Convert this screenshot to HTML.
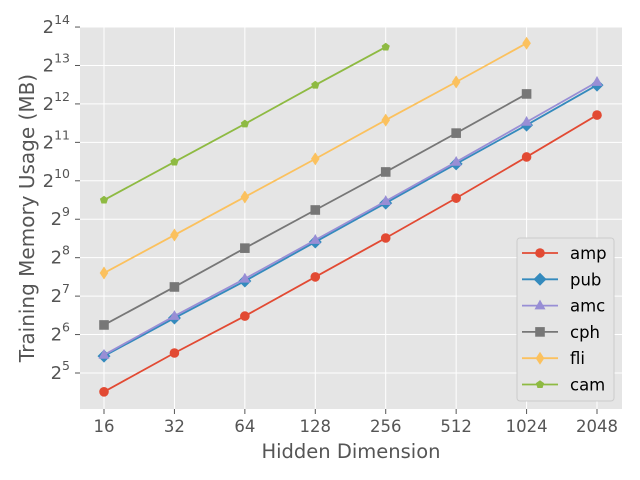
<!DOCTYPE html>
<html><head><meta charset="utf-8"><style>
body{margin:0;background:#fff;}
svg{display:block;font-family:"DejaVu Sans","Liberation Sans",sans-serif;}
</style></head><body>
<svg id="chart" width="640" height="480" viewBox="0 0 640 480" xmlns="http://www.w3.org/2000/svg">
<rect x="80" y="27" width="542" height="382" fill="#E5E5E5"/>
<g id="grid"></g><g id="axes"></g><g id="series"></g><g id="legend"></g>
<text x="351" y="458" font-size="19.5" fill="#555" text-anchor="middle">Hidden Dimension</text>
<text transform="translate(34,218) rotate(-90)" font-size="20" fill="#555" text-anchor="middle">Training Memory Usage (MB)</text>
</svg>
<script>
const categories=[16,32,64,128,256,512,1024,2048];
const yTickExps=[5,6,7,8,9,10,11,12,13,14];
const seriesNames=["amp","pub","amc","cph","fli","cam"];
const amp=[22.8,45.9,89.3,181,365,749,1574,3350];
const pub=[43.4,86.2,168,340,685,1389,2797,5752];
const amc=[44.3,89.3,175,352,709,1438,2956,6080];
const cph=[76.1,151,304,605,1201,2419,4904];
const fli=[194,385,765,1520,3061,6080,12245];
const cam=[724,1438,2856,5752,11425];
const seriesData=[amp,pub,amc,cph,fli,cam];
const colors=["#E24A33","#348ABD","#988ED5","#777777","#FBC15E","#8EBA42"];
const markers=["circle","diamond","triangle","square","thindiamond","pentagon"];
const NS="http://www.w3.org/2000/svg";
function xPos(v){return 104+Math.log2(v/16)*70.43;}
function yPos(v){return 373-(Math.log2(v)-5)*38.44;}
function mk(tag,attrs,parent){const e=document.createElementNS(NS,tag);for(const k in attrs)e.setAttribute(k,attrs[k]);parent.appendChild(e);return e;}
const grid=document.getElementById('grid'),axes=document.getElementById('axes'),ser=document.getElementById('series'),leg=document.getElementById('legend');
categories.forEach(c=>{const x=xPos(c);
 const l=mk('line',{x1:x,x2:x,y1:27,y2:409,stroke:'#fff','stroke-width':1},grid);
 
 
 const t=mk('line',{x1:x,x2:x,y1:409,y2:414,stroke:'#555'},axes);
 
 
 const tx=mk('text',{x:x,y:432,'font-size':16.5,fill:'#555','text-anchor':'middle'},axes);tx.textContent=c;
 
 
});
yTickExps.forEach(e=>{const y=yPos(Math.pow(2,e));
 const l=mk('line',{x1:80,x2:622,y1:y,y2:y,stroke:'#fff','stroke-width':1},grid);
 
 
 const t=mk('line',{x1:75,x2:80,y1:y,y2:y,stroke:'#555'},axes);
 
 
 const tx=mk('text',{x:70,y:y+6,'font-size':18,fill:'#555','text-anchor':'end'},axes);
 
 
 const b=mk('tspan',{},tx);b.textContent='2';
 const s=mk('tspan',{dy:-9,'font-size':12.5},tx);s.textContent=e;
});
function marker(type,x,y,color,parent){let e;
 if(type==='circle')e=mk('circle',{cx:x,cy:y,r:4.8,fill:color},parent);
 else if(type==='diamond')e=mk('polygon',{points:`${x},${y-6.5} ${x+6.5},${y} ${x},${y+6.5} ${x-6.5},${y}`,fill:color},parent);
 else if(type==='thindiamond')e=mk('polygon',{points:`${x},${y-6.5} ${x+4.3},${y} ${x},${y+6.5} ${x-4.3},${y}`,fill:color},parent);
 else if(type==='triangle')e=mk('polygon',{points:`${x},${y-6} ${x+5.5},${y+3.8} ${x-5.5},${y+3.8}`,fill:color},parent);
 else if(type==='square')e=mk('rect',{x:x-4.8,y:y-4.8,width:9.6,height:9.6,fill:color},parent);
 else {let p=[];for(let i=0;i<5;i++){const a=-Math.PI/2+i*2*Math.PI/5;p.push((x+4.3*Math.cos(a))+','+(y+4.3*Math.sin(a)));}e=mk('polygon',{points:p.join(' '),fill:color},parent);}
 return e;}
seriesData.forEach((d,i)=>{
 const g=mk('g',{},ser);
 
 
 const pts=d.map((v,j)=>xPos(categories[j])+','+yPos(v)).join(' ');
 const pl=mk('polyline',{points:pts,fill:'none',stroke:colors[i],'stroke-width':1.8},g);
 
 
 d.forEach((v,j)=>{const m=marker(markers[i],xPos(categories[j]),yPos(v),colors[i],g);
  
  });
});
const lb=mk('rect',{x:517,y:238,width:97,height:163,rx:3,fill:'#E5E5E5',stroke:'#ccc','stroke-width':1},leg);


seriesNames.forEach((n,i)=>{const y=253+i*26.3;
 const g=mk('g',{},leg);
 
 
 mk('line',{x1:522,x2:558,y1:y,y2:y,stroke:colors[i],'stroke-width':1.8},g);
 marker(markers[i],540,y,colors[i],g);
 const t=mk('text',{x:570,y:y+6,'font-size':16.5,fill:'#000'},g);t.textContent=n;
});
</script>
</body></html>
